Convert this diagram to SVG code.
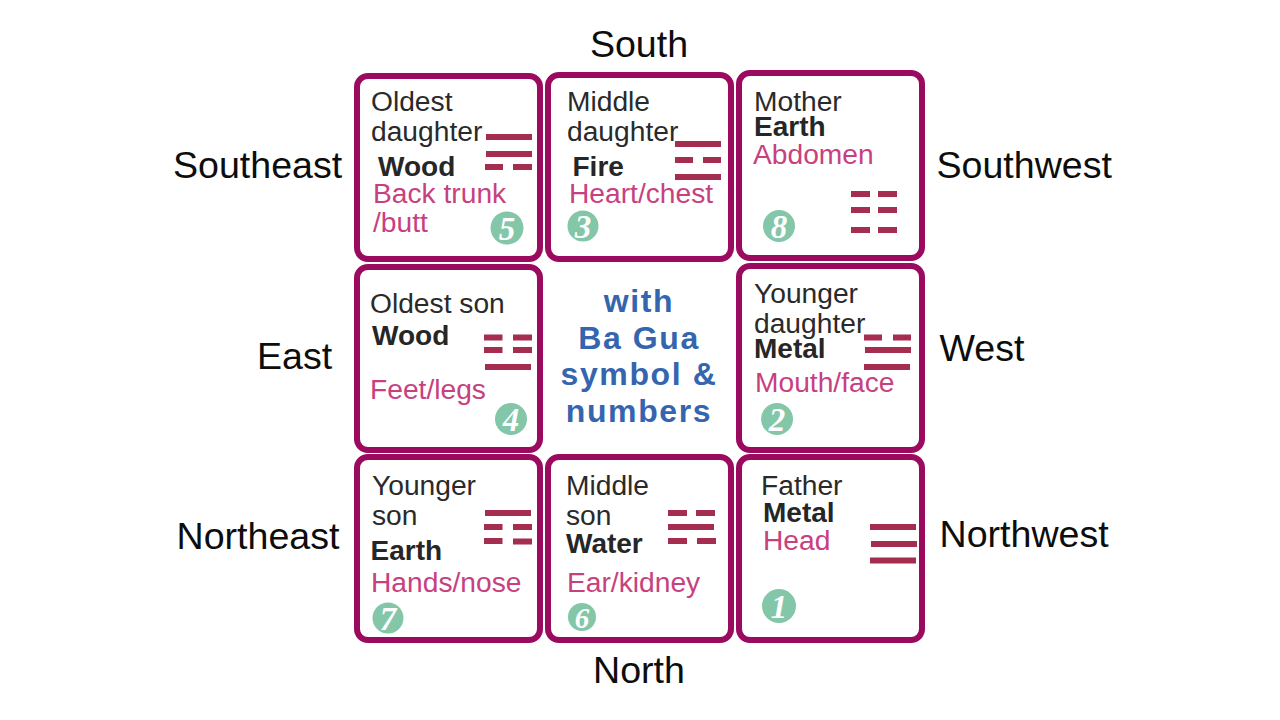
<svg xmlns="http://www.w3.org/2000/svg" width="1280" height="720" viewBox="0 0 1280 720">
<style>
text{font-family:"Liberation Sans",Arial,sans-serif}
.card{fill:#fff;stroke:#9a0a5e;stroke-width:6}
.dir{font-size:37.6px;fill:#0d0d0d}
.t{font-size:28.2px;fill:#2a2a2a}
.b{font-size:28px;font-weight:bold;fill:#262626}
.p{font-size:28.2px;fill:#c7417f}
.c{font-size:32px;font-weight:bold;fill:#3465ae;text-anchor:middle;letter-spacing:1.6px}
.bar{fill:#a52d50}
.dot{fill:#84c6a8}
.n{font-family:"Liberation Serif",serif;font-size:33px;font-weight:bold;font-style:italic;fill:#fff;text-anchor:middle}
.m{text-anchor:middle}
</style>
<rect width="1280" height="720" fill="#fff"/>
<g id="directions" class="dir">
<text class="dir m" x="639" y="57">South</text>
<text class="dir" x="173" y="178">Southeast</text>
<text class="dir" x="936.500" y="178">Southwest</text>
<text class="dir" x="257" y="369">East</text>
<text class="dir" x="939.500" y="360.500">West</text>
<text class="dir" x="176.500" y="549">Northeast</text>
<text class="dir" x="939.500" y="547">Northwest</text>
<text class="dir m" x="639" y="682.500">North</text>
</g>
<g id="node-southeast">
<rect class="card" x="357" y="76" width="183" height="183" rx="11"/>
<text class="t" x="371" y="110.500">Oldest</text><text class="t" x="371" y="140.500">daughter</text>
<text class="b" x="378" y="175.500">Wood</text>
<text class="p" x="373" y="202.500">Back trunk</text><text class="p" x="373" y="231.500">/butt</text>
<path class="bar" d="M486 134h46v6h-46zM486 151h46v6h-46zM485 164h18v6h-18zM513 164h19v6h-19z"/>
<circle class="dot" cx="507" cy="228" r="16.500"/><text class="n" x="507" y="239.500">5</text>
</g>
<g id="node-south">
<rect class="card" x="548" y="75" width="183" height="184" rx="11"/>
<text class="t" x="567" y="110.500">Middle</text><text class="t" x="567" y="140.500">daughter</text>
<text class="b" x="572.500" y="175.500">Fire</text>
<text class="p" x="569" y="202.500">Heart/chest</text>
<path class="bar" d="M675 141h46v6h-46zM675 157h18v6h-18zM703 157h18v6h-18zM675 174h46v6h-46z"/>
<circle class="dot" cx="583" cy="226" r="15.500"/><text class="n" x="583" y="237.500">3</text>
</g>
<g id="node-southwest">
<rect class="card" x="739" y="73" width="183" height="185" rx="11"/>
<text class="t" x="754" y="110.500">Mother</text>
<text class="b" x="754" y="135.500">Earth</text>
<text class="p" x="753" y="163.500">Abdomen</text>
<path class="bar" d="M851 191h19v6h-19zM878 191h19v6h-19zM851 207h19v6h-19zM878 207h19v6h-19zM851 227h19v6h-19zM878 227h19v6h-19z"/>
<circle class="dot" cx="779" cy="226" r="16"/><text class="n" x="779" y="237.500">8</text>
</g>
<g id="node-east">
<rect class="card" x="357" y="267" width="183" height="183" rx="11"/>
<text class="t" x="370" y="312.500">Oldest son</text>
<text class="b" x="372" y="344.500">Wood</text>
<text class="p" x="370" y="399">Feet/legs</text>
<path class="bar" d="M484 334.500h18.500v6h-18.500zM513 334.500h19v6h-19zM484 347h18.500v6h-18.500zM513 347h19v6h-19zM485 364h46v6h-46z"/>
<circle class="dot" cx="511" cy="419" r="16"/><text class="n" x="511" y="430.500">4</text>
</g>
<g id="node-center">
<text class="c" x="639" y="312">with</text>
<text class="c" x="639" y="349">Ba Gua</text>
<text class="c" x="639" y="385">symbol &amp;</text>
<text class="c" x="639" y="421.500">numbers</text>
</g>
<g id="node-west">
<rect class="card" x="739" y="266" width="183" height="184" rx="11"/>
<text class="t" x="754" y="302.500">Younger</text><text class="t" x="754" y="332.500">daughter</text>
<text class="b" x="754" y="357.500">Metal</text>
<text class="p" x="755" y="391.500">Mouth/face</text>
<path class="bar" d="M864 334.500h18v6h-18zM893 334.500h18v6h-18zM865 347h46v6h-46zM864 364h46v6h-46z"/>
<circle class="dot" cx="777" cy="419" r="16"/><text class="n" x="777" y="430.500">2</text>
</g>
<g id="node-northeast">
<rect class="card" x="357" y="457" width="183" height="183" rx="11"/>
<text class="t" x="372" y="494.500">Younger</text><text class="t" x="372" y="524.500">son</text>
<text class="b" x="370.500" y="560">Earth</text>
<text class="p" x="371" y="592">Hands/nose</text>
<path class="bar" d="M485 510h46v6h-46zM484 524h18.500v6h-18.500zM513 524h19v6h-19zM484 538h18.500v6h-18.500zM513 538.500h19v6h-19z"/>
<circle class="dot" cx="388" cy="618" r="15.500"/><text class="n" x="388" y="629.500">7</text>
</g>
<g id="node-north">
<rect class="card" x="548" y="457" width="183" height="183" rx="11"/>
<text class="t" x="566" y="494.500">Middle</text><text class="t" x="566" y="524.500">son</text>
<text class="b" x="566" y="553">Water</text>
<text class="p" x="567" y="592">Ear/kidney</text>
<path class="bar" d="M668 510h19v6h-19zM696 510h19v6h-19zM668 524h46v6h-46zM668 538h19v6h-19zM697 538h19v6h-19z"/>
<circle class="dot" cx="582" cy="617" r="14"/><text class="n" x="582" y="627.500" style="font-size:29px">6</text>
</g>
<g id="node-northwest">
<rect class="card" x="739" y="457" width="183" height="183" rx="11"/>
<text class="t" x="761" y="494.500">Father</text>
<text class="b" x="763" y="522">Metal</text>
<text class="p" x="763" y="549.500">Head</text>
<path class="bar" d="M870 524h46v6h-46zM871 541h46v6h-46zM870 557.500h46v6h-46z"/>
<circle class="dot" cx="779" cy="606" r="17"/><text class="n" x="779" y="617.500">1</text>
</g>
<g id="connectors"/>
</svg>
